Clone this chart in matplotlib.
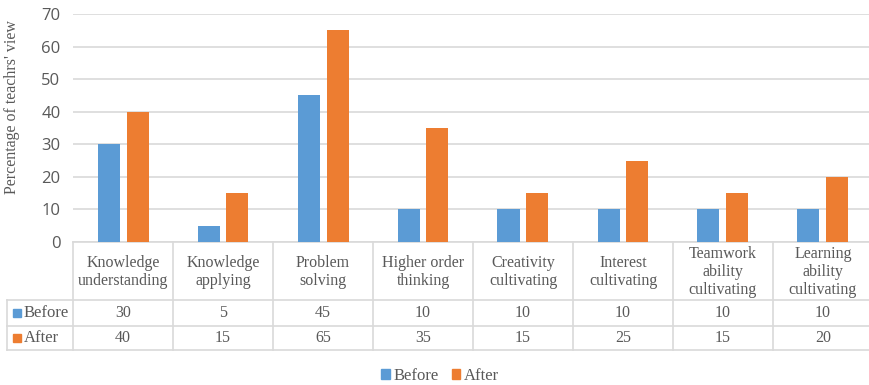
import matplotlib.pyplot as plt
from matplotlib.patches import Patch
import numpy as np

# categories and teacher percentages
categories = ["Knowledge\nunderstanding", "Knowledge\napplying", "Problem\nsolving",
              "Higher order\nthinking", "Creativity\ncultivating", "Interest\ncultivating",
              "Teamwork\nability\ncultivating", "Learning\nability\ncultivating"]
before = [30, 5, 45, 10, 10, 10, 10, 10]
after = [40, 15, 65, 35, 15, 25, 15, 20]
series_names = ["Before", "After"]
y_ticks = [0, 10, 20, 30, 40, 50, 60, 70]

blue = "#5B9BD5"
orange = "#ED7D31"
grid_c = "#D9D9D9"
text_c = "#595959"
serif = "Liberation Serif"
fs = 11.5

W, H = 869, 385
fig = plt.figure(figsize=(W / 100, H / 100), dpi=100)

# plot area: left at 73px, top 14px, bottom 242px, running off the right edge
left, top, bottom = 73, 14, 242
ax = fig.add_axes([left / W, 1 - bottom / H, 1 - left / W, (bottom - top) / H])

x = np.arange(len(categories))
bw = 0.22
ax.bar(x - 0.145, before, bw, color=blue, zorder=3)
ax.bar(x + 0.145, after, bw, color=orange, zorder=3)

ax.set_xlim(-0.5, -0.5 + (W - left) / 100)
ax.set_ylim(0, 70)
ax.set_yticks(y_ticks)
ax.set_xticks([])
ax.yaxis.grid(True, color=grid_c, lw=1.2)
ax.set_axisbelow(True)
for s in ax.spines.values():
    s.set_visible(False)
ax.tick_params(axis="y", length=0, pad=9, labelcolor=text_c, labelsize=12)
for lab in ax.get_yticklabels():
    lab.set_family("Open Sans")

fig.text(12 / W, 1 - 107 / H, "Percentage of teachrs' view", rotation=90,
         ha="center", va="center", color=text_c, fontsize=11.5, family=serif)

# data table below the axis, x in data coords, y in axes fraction
tr = ax.get_xaxis_transform()
ph = bottom - top


def yf(py):
    return (bottom - py) / ph


row_edges = [242, 300, 326, 350]
x_left_tbl = -0.5 - (left - 7) / 100
x_right = -0.5 + (W - left) / 100 + 0.1

ax.plot([-0.5, x_right], [yf(242)] * 2, color=grid_c, lw=1.2, transform=tr, clip_on=False)
for py in row_edges[1:]:
    ax.plot([x_left_tbl, x_right], [yf(py)] * 2, color=grid_c, lw=1.2, transform=tr, clip_on=False)
for i in range(len(categories) + 1):
    ax.plot([i - 0.5] * 2, [yf(242), yf(350)], color=grid_c, lw=1.2, transform=tr, clip_on=False)
ax.plot([x_left_tbl] * 2, [yf(300), yf(350)], color=grid_c, lw=1.2, transform=tr, clip_on=False)

for i, cat in enumerate(categories):
    ax.text(i, yf(272), cat, transform=tr, ha="center", va="center", color=text_c,
            fontsize=fs, family=serif, linespacing=1.15, clip_on=False)
    ax.text(i, yf(313), str(before[i]), transform=tr, ha="center", va="center",
            color=text_c, fontsize=fs, family=serif, clip_on=False)
    ax.text(i, yf(338), str(after[i]), transform=tr, ha="center", va="center",
            color=text_c, fontsize=fs, family=serif, clip_on=False)

# row labels with colour keys
for name, col, py in [(series_names[0], blue, 313), (series_names[1], orange, 338)]:
    ax.plot([x_left_tbl + 0.10], [yf(py)], marker="s", ms=6, color=col,
            transform=tr, clip_on=False, lw=0)
    ax.text(x_left_tbl + 0.17, yf(py), name, transform=tr, ha="left", va="center",
            color=text_c, fontsize=12, family=serif, clip_on=False)

handles = [Patch(color=blue, label=series_names[0]), Patch(color=orange, label=series_names[1])]
leg = fig.legend(handles=handles, loc="center", bbox_to_anchor=(440 / W, 1 - 376 / H),
                 ncol=2, frameon=False, handlelength=0.5, handleheight=0.5,
                 handletextpad=0.2, columnspacing=0.8, prop={"family": serif, "size": 12})
for t in leg.get_texts():
    t.set_color(text_c)

fig.savefig("out.png", dpi=100)
